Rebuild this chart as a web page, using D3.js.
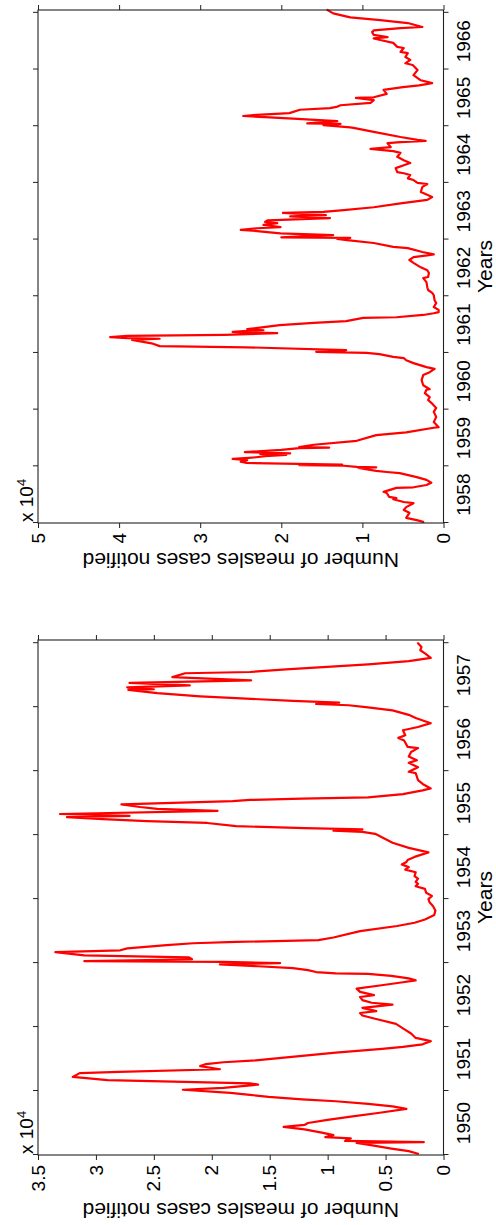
<!DOCTYPE html>
<html><head><meta charset="utf-8">
<script src="https://cdn.jsdelivr.net/npm/d3@7"></script>
<style>
body{margin:0;background:#fff;}
svg{display:block;}
text{font-family:"Liberation Sans",Arial,Helvetica,sans-serif;fill:#000;}
</style></head>
<body><svg id="chart" width="496" height="1225"></svg>
<script>
// ---- data (cases in units of 10^4) ----
const years1 = [1950.02,1950.06,1950.10,1950.13,1950.17,1950.19,1950.20,1950.22,1950.26,1950.28,1950.31,1950.35,1950.40,1950.44,1950.47,1950.50,1950.55,1950.60,1950.66,1950.72,1950.76,1950.80,1950.84,1950.87,1950.91,1950.94,1950.97,1951.02,1951.05,1951.10,1951.12,1951.17,1951.22,1951.28,1951.30,1951.34,1951.39,1951.42,1951.45,1951.48,1951.50,1951.60,1951.66,1951.69,1951.73,1951.78,1951.83,1951.90,1951.98,1952.05,1952.13,1952.18,1952.22,1952.25,1952.30,1952.35,1952.38,1952.42,1952.47,1952.50,1952.55,1952.60,1952.65,1952.70,1952.73,1952.76,1952.80,1952.83,1952.84,1952.86,1952.89,1952.92,1952.95,1952.98,1953.00,1953.02,1953.03,1953.06,1953.09,1953.12,1953.17,1953.20,1953.23,1953.28,1953.31,1953.33,1953.36,1953.40,1953.50,1953.58,1953.63,1953.68,1953.75,1953.82,1953.89,1953.95,1954.00,1954.05,1954.10,1954.16,1954.20,1954.24,1954.27,1954.32,1954.36,1954.42,1954.46,1954.50,1954.54,1954.58,1954.61,1954.66,1954.73,1954.80,1954.88,1955.02,1955.05,1955.07,1955.09,1955.11,1955.14,1955.19,1955.22,1955.25,1955.28,1955.30,1955.33,1955.38,1955.41,1955.44,1955.48,1955.53,1955.55,1955.57,1955.59,1955.64,1955.70,1955.73,1955.80,1955.86,1955.97,1955.99,1956.06,1956.13,1956.17,1956.23,1956.30,1956.36,1956.38,1956.48,1956.52,1956.56,1956.64,1956.69,1956.75,1956.83,1956.88,1956.95,1957.00,1957.03,1957.05,1957.07,1957.10,1957.14,1957.17,1957.22,1957.27,1957.28,1957.31,1957.34,1957.38,1957.42,1957.47,1957.53,1957.55,1957.59,1957.67,1957.72,1957.77,1957.84,1957.89,1957.94,1958.00];
const cases1 = [0.22,0.30,0.45,0.55,0.68,0.75,0.17,0.85,0.80,1.02,0.95,1.05,1.20,1.38,1.20,1.17,1.00,0.80,0.55,0.32,0.44,0.65,0.93,1.22,1.51,1.67,1.84,2.25,1.90,1.60,1.67,2.90,3.20,3.14,2.80,1.93,2.10,2.05,1.90,1.62,1.51,0.93,0.53,0.35,0.18,0.11,0.24,0.28,0.35,0.41,0.59,0.70,0.72,0.58,0.70,0.44,0.62,0.70,0.72,0.60,0.72,0.75,0.55,0.35,0.24,0.30,0.45,0.65,0.93,1.10,1.17,1.30,1.60,1.93,1.41,1.90,3.10,2.17,2.20,3.10,3.35,2.79,2.73,2.39,2.16,1.79,1.08,0.95,0.72,0.40,0.25,0.16,0.08,0.07,0.09,0.12,0.13,0.10,0.15,0.16,0.24,0.22,0.24,0.22,0.25,0.24,0.33,0.30,0.36,0.32,0.31,0.25,0.13,0.30,0.44,0.59,0.70,0.95,0.70,1.20,1.79,2.04,2.56,2.94,3.25,2.71,3.31,1.95,2.47,2.62,2.78,1.82,1.67,1.22,0.65,0.35,0.18,0.11,0.18,0.22,0.24,0.30,0.22,0.30,0.23,0.30,0.28,0.22,0.31,0.34,0.39,0.33,0.35,0.22,0.11,0.24,0.30,0.44,0.67,0.82,1.10,0.90,1.30,1.79,2.10,2.47,2.72,2.50,2.73,2.19,2.71,1.66,2.34,2.23,1.67,1.36,0.65,0.30,0.11,0.16,0.20,0.19,0.22];

const years2 = [1958.02,1958.05,1958.09,1958.18,1958.23,1958.28,1958.35,1958.37,1958.42,1958.44,1958.46,1958.53,1958.55,1958.58,1958.62,1958.63,1958.67,1958.71,1958.76,1958.81,1958.88,1958.90,1958.92,1958.97,1958.98,1958.99,1959.01,1959.02,1959.03,1959.06,1959.08,1959.11,1959.13,1959.15,1959.16,1959.18,1959.20,1959.22,1959.23,1959.25,1959.29,1959.32,1959.33,1959.34,1959.38,1959.45,1959.55,1959.60,1959.68,1959.69,1959.78,1959.87,1959.96,1960.03,1960.12,1960.17,1960.22,1960.29,1960.35,1960.36,1960.43,1960.52,1960.61,1960.66,1960.72,1960.75,1960.82,1960.87,1960.91,1960.93,1960.98,1961.00,1961.02,1961.03,1961.05,1961.10,1961.12,1961.17,1961.23,1961.25,1961.26,1961.28,1961.30,1961.32,1961.35,1961.37,1961.39,1961.40,1961.42,1961.49,1961.53,1961.56,1961.62,1961.63,1961.67,1961.70,1961.72,1961.76,1961.81,1961.88,1961.93,1962.02,1962.06,1962.11,1962.16,1962.25,1962.32,1962.34,1962.41,1962.46,1962.51,1962.59,1962.64,1962.69,1962.72,1962.74,1962.78,1962.85,1962.87,1962.94,1962.99,1963.01,1963.03,1963.04,1963.06,1963.08,1963.11,1963.15,1963.17,1963.20,1963.22,1963.26,1963.29,1963.31,1963.34,1963.38,1963.41,1963.43,1963.47,1963.49,1963.52,1963.57,1963.64,1963.70,1963.75,1963.82,1963.84,1963.93,1963.98,1964.00,1964.05,1964.08,1964.14,1964.17,1964.19,1964.26,1964.31,1964.35,1964.40,1964.46,1964.53,1964.56,1964.60,1964.63,1964.70,1964.72,1964.74,1964.76,1964.81,1964.90,1964.97,1964.98,1965.02,1965.04,1965.05,1965.09,1965.13,1965.16,1965.18,1965.20,1965.23,1965.29,1965.32,1965.34,1965.37,1965.41,1965.46,1965.50,1965.51,1965.57,1965.64,1965.69,1965.72,1965.76,1965.81,1965.90,1965.99,1966.08,1966.11,1966.17,1966.22,1966.29,1966.31,1966.38,1966.40,1966.47,1966.52,1966.55,1966.57,1966.61,1966.66,1966.69,1966.73,1966.75,1966.82,1966.87,1966.92,1966.99,1967.05];
const cases2 = [0.25,0.33,0.46,0.42,0.49,0.46,0.37,0.49,0.62,0.58,0.67,0.70,0.74,0.67,0.58,0.37,0.21,0.15,0.21,0.33,0.54,0.70,0.83,1.05,0.83,1.07,1.23,1.78,1.25,2.43,2.50,2.42,2.60,2.40,2.31,2.20,1.94,2.26,1.89,2.45,2.00,1.78,1.41,1.78,1.60,1.07,0.83,0.46,0.12,0.06,0.12,0.09,0.12,0.09,0.15,0.19,0.17,0.23,0.21,0.17,0.25,0.27,0.25,0.17,0.11,0.21,0.37,0.46,0.49,0.62,0.79,0.95,1.57,1.28,1.20,2.43,3.50,3.60,3.84,3.50,3.90,4.11,3.90,2.70,2.05,2.60,2.42,2.22,2.42,2.02,1.60,1.20,0.99,0.58,0.25,0.12,0.06,0.06,0.12,0.09,0.11,0.12,0.14,0.19,0.20,0.21,0.25,0.19,0.18,0.20,0.28,0.37,0.42,0.37,0.20,0.12,0.26,0.44,0.62,0.86,1.19,1.31,1.15,2.00,1.68,1.36,2.01,2.30,2.50,2.30,2.01,2.22,2.05,2.20,2.17,1.40,1.89,1.45,1.98,1.48,1.23,0.86,0.53,0.20,0.14,0.25,0.28,0.26,0.20,0.32,0.37,0.44,0.41,0.49,0.57,0.59,0.49,0.41,0.49,0.57,0.53,0.62,0.90,0.65,0.69,0.53,0.22,0.32,0.53,0.86,1.11,1.15,1.48,1.27,1.68,1.31,1.80,2.20,2.47,2.30,1.90,1.77,1.40,1.32,1.27,0.90,0.86,1.08,0.86,0.70,0.74,0.50,0.30,0.14,0.28,0.37,0.32,0.38,0.47,0.41,0.47,0.44,0.53,0.49,0.57,0.62,0.78,0.86,0.69,0.86,0.88,0.86,0.53,0.26,0.44,0.78,1.15,1.36,1.43];

const yearLabels1 = [1950,1951,1952,1953,1954,1955,1956,1957];
const yearLabels2 = [1958,1959,1960,1961,1962,1963,1964,1965,1966];
const valueTicks1 = [0,0.5,1,1.5,2,2.5,3,3.5];
const valueTicks2 = [0,1,2,3,4,5];
const xLabel = "Years";
const yLabel = "Number of measles cases notified";

// ---- layout (drawn in landscape, then rotated onto the portrait page) ----
const PAGE_H = 1225;
const svg = d3.select("#chart");
const root = svg.append("g").attr("transform", `translate(0,${PAGE_H}) rotate(-90)`);

const panels = [
  {years: years1, cases: cases1, labels: yearLabels1, vticks: valueTicks1,
   dom: [1950, 1958.05], vmax: 3.5, x0: 70, x1: 585, ylabX: 22},
  {years: years2, cases: cases2, labels: yearLabels2, vticks: valueTicks2,
   dom: [1958, 1967.05], vmax: 5, x0: 702, x1: 1215, ylabX: 672}
];
const frameTop = 38, frameBottom = 443.5;

panels.forEach(p => {
  const x = d3.scaleLinear().domain(p.dom).range([p.x0, p.x1]);
  const y = d3.scaleLinear().domain([0, p.vmax]).range([frameBottom, frameTop]);
  const g = root.append("g");
  const yearTicks = d3.range(Math.ceil(p.dom[0]), Math.floor(p.dom[1]) + 1);

  // data line
  const pts = p.years.map((t, i) => [t, p.cases[i]]);
  g.append("path").datum(pts)
    .attr("d", d3.line().x(d => x(d[0])).y(d => y(d[1])))
    .attr("fill", "none").attr("stroke", "#ff0000")
    .attr("stroke-width", 2.2).attr("stroke-linejoin", "round").attr("stroke-linecap", "round");

  // axes (ticks outward on all sides)
  const styleAxis = s => {
    s.select(".domain").remove();
    s.selectAll(".tick line").attr("stroke", "#222").attr("stroke-width", 1);
    s.selectAll(".tick text").style("font-size", "19px").attr("fill", "#000");
  };
  g.append("g").attr("transform", `translate(0,${frameBottom})`)
    .call(d3.axisBottom(x).tickValues(yearTicks).tickSize(5).tickFormat(""))
    .call(styleAxis);
  g.append("g").attr("transform", `translate(0,${frameTop})`)
    .call(d3.axisTop(x).tickValues(yearTicks).tickSize(5).tickFormat(""))
    .call(styleAxis);
  g.append("g").attr("transform", `translate(${p.x0},0)`)
    .call(d3.axisLeft(y).tickValues(p.vticks).tickSize(5).tickPadding(5).tickFormat(d => String(d)))
    .call(styleAxis);
  g.append("g").attr("transform", `translate(${p.x1},0)`)
    .call(d3.axisRight(y).tickValues(p.vticks).tickSize(5).tickFormat(""))
    .call(styleAxis);

  // frame
  g.append("rect").attr("x", p.x0).attr("y", frameTop)
    .attr("width", p.x1 - p.x0).attr("height", frameBottom - frameTop)
    .attr("fill", "none").attr("stroke", "#222").attr("stroke-width", 1.1);

  // year labels centred within each year
  g.selectAll(".yl").data(p.labels).enter().append("text")
    .attr("x", d => x(d + 0.5)).attr("y", 470)
    .attr("text-anchor", "middle").style("font-size", "19px").text(d => d);

  // axis titles
  g.append("text").attr("x", (p.x0 + p.x1) / 2).attr("y", 492)
    .attr("text-anchor", "middle").style("font-size", "21px").text(xLabel);
  g.append("text").attr("transform", `translate(${p.ylabX},${(frameTop + frameBottom) / 2}) rotate(-90)`)
    .attr("text-anchor", "middle").style("font-size", "21px").text(yLabel);

  // exponent label
  const ex = g.append("text").attr("x", p.x0 + 1).attr("y", 33).style("font-size", "19px");
  ex.append("tspan").text("x 10");
  ex.append("tspan").attr("dy", -7).style("font-size", "13px").text("4");
});
</script></body></html>
